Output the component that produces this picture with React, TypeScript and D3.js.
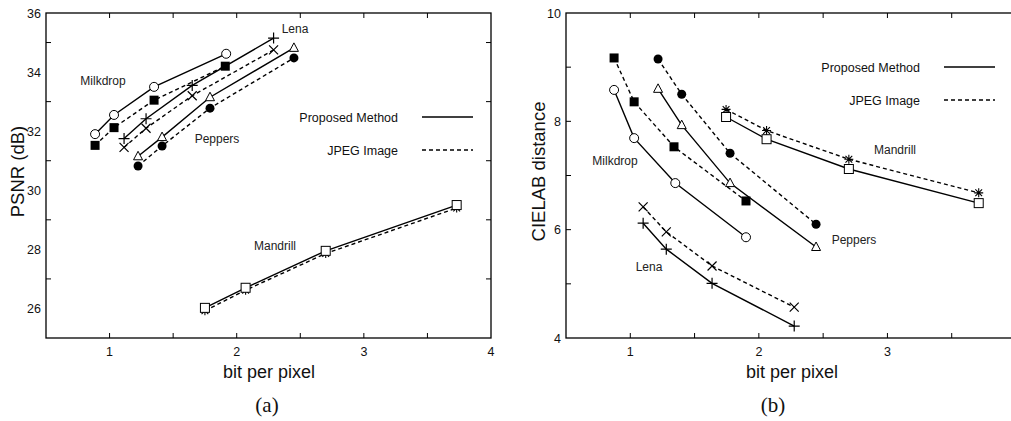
import * as d3 from "d3";

// (a) PSNR vs bit per pixel
const psnrMilkdropProposed = [[0.886, 31.9], [1.035, 32.55], [1.35, 33.5], [1.917, 34.62]];
const psnrMilkdropJpeg = [[0.886, 31.52], [1.035, 32.12], [1.35, 33.05], [1.91, 34.2]];
const psnrLenaProposed = [[1.114, 31.75], [1.287, 32.42], [1.65, 33.55], [2.29, 35.15]];
const psnrLenaJpeg = [[1.114, 31.45], [1.287, 32.1], [1.65, 33.2], [2.29, 34.75]];
const psnrPeppersProposed = [[1.224, 31.15], [1.413, 31.8], [1.79, 33.15], [2.45, 34.82]];
const psnrPeppersJpeg = [[1.224, 30.82], [1.413, 31.5], [1.79, 32.78], [2.45, 34.48]];
const psnrMandrillProposed = [[1.75, 26.02], [2.07, 26.7], [2.7, 27.95], [3.73, 29.5]];
const psnrMandrillJpeg = [[1.75, 25.92], [2.07, 26.62], [2.7, 27.86], [3.73, 29.4]];

// (b) CIELAB distance vs bit per pixel
const labMilkdropProposed = [[0.874, 8.58], [1.03, 7.69], [1.35, 6.86], [1.9, 5.86]];
const labMilkdropJpeg = [[0.874, 9.17], [1.03, 8.36], [1.34, 7.53], [1.9, 6.53]];
const labPeppersProposed = [[1.216, 8.6], [1.4, 7.93], [1.776, 6.86], [2.445, 5.68]];
const labPeppersJpeg = [[1.216, 9.15], [1.4, 8.5], [1.776, 7.41], [2.445, 6.1]];
const labMandrillProposed = [[1.745, 8.08], [2.06, 7.67], [2.7, 7.12], [3.71, 6.49]];
const labMandrillJpeg = [[1.745, 8.22], [2.06, 7.83], [2.7, 7.3], [3.71, 6.68]];
const labLenaProposed = [[1.1, 6.12], [1.28, 5.64], [1.636, 5.01], [2.275, 4.22]];
const labLenaJpeg = [[1.1, 6.42], [1.28, 5.96], [1.636, 5.33], [2.275, 4.57]];

const psnrXTicks = [1, 2, 3, 4];
const labXTicks = [1, 2, 3];
const psnrTicks = [26, 28, 30, 32, 34, 36];
const labTicks = [4, 6, 8, 10];
const legendLabels = ["Proposed Method", "JPEG Image"];

type Pt = number[];
type Series = { data: Pt[]; marker: string; dashed: boolean };

const psnrSeries: Series[] = [
  { data: psnrMilkdropProposed, marker: "circle", dashed: false },
  { data: psnrMilkdropJpeg, marker: "squareFill", dashed: true },
  { data: psnrLenaProposed, marker: "plus", dashed: false },
  { data: psnrLenaJpeg, marker: "cross", dashed: true },
  { data: psnrPeppersProposed, marker: "triangle", dashed: false },
  { data: psnrPeppersJpeg, marker: "circleFill", dashed: true },
  { data: psnrMandrillJpeg, marker: "star", dashed: true },
  { data: psnrMandrillProposed, marker: "square", dashed: false },
];

const labSeries: Series[] = [
  { data: labMilkdropProposed, marker: "circle", dashed: false },
  { data: labMilkdropJpeg, marker: "squareFill", dashed: true },
  { data: labPeppersProposed, marker: "triangle", dashed: false },
  { data: labPeppersJpeg, marker: "circleFill", dashed: true },
  { data: labMandrillJpeg, marker: "star", dashed: true },
  { data: labMandrillProposed, marker: "square", dashed: false },
  { data: labLenaProposed, marker: "plus", dashed: false },
  { data: labLenaJpeg, marker: "cross", dashed: true },
];

const FONT = "'Liberation Sans', Arial, Helvetica, sans-serif";

function Marker({ kind, x, y }: { kind: string; x: number; y: number }) {
  const s = 4.5;
  switch (kind) {
    case "circle":
      return <circle cx={x} cy={y} r={s} fill="#fff" stroke="#000" strokeWidth={1} />;
    case "circleFill":
      return <circle cx={x} cy={y} r={s} fill="#000" />;
    case "square":
      return <rect x={x - s} y={y - s} width={2 * s} height={2 * s} fill="#fff" stroke="#000" strokeWidth={1} />;
    case "squareFill":
      return <rect x={x - s} y={y - s} width={2 * s} height={2 * s} fill="#000" />;
    case "triangle":
      return (
        <path
          d={`M${x},${y - s - 0.5}L${x + s},${y + s - 1}L${x - s},${y + s - 1}Z`}
          fill="#fff"
          stroke="#000"
          strokeWidth={1}
        />
      );
    case "plus":
      return (
        <path d={`M${x - s - 1},${y}H${x + s + 1}M${x},${y - s - 1}V${y + s + 1}`} stroke="#000" strokeWidth={1.2} />
      );
    case "cross":
      return (
        <path
          d={`M${x - s},${y - s}L${x + s},${y + s}M${x - s},${y + s}L${x + s},${y - s}`}
          stroke="#000"
          strokeWidth={1.2}
        />
      );
    case "star":
      return (
        <path
          d={`M${x - s},${y}H${x + s}M${x},${y - s}V${y + s}M${x - s * 0.75},${y - s * 0.75}L${x + s * 0.75},${
            y + s * 0.75
          }M${x - s * 0.75},${y + s * 0.75}L${x + s * 0.75},${y - s * 0.75}`}
          stroke="#000"
          strokeWidth={1.1}
        />
      );
  }
  return null;
}

type PanelProps = {
  x0: number;
  x1: number;
  y0: number;
  y1: number;
  xTicks: number[];
  yDomain: [number, number];
  yTicks: number[];
  yMinorStep: number;
  series: Series[];
  yLabel: string;
  yLabelX: number;
  labels: { text: string; x: number; y: number }[];
  legendX: number;
  legendY: number;
  caption: string;
  captionX: number;
  xLabelX: number;
};

function Panel(p: PanelProps) {
  const x = d3.scaleLinear().domain([0.5, 4]).range([p.x0, p.x1]);
  const y = d3.scaleLinear().domain(p.yDomain).range([p.y1, p.y0]);
  const line = d3
    .line<Pt>()
    .x((d) => x(d[0]))
    .y((d) => y(d[1]));
  const xMinor = d3.range(1, 4, 0.5);
  const yMinor = d3.range(p.yDomain[0] + p.yMinorStep, p.yDomain[1], p.yMinorStep);
  const tl = 5;
  return (
    <g fontFamily={FONT}>
      <rect x={p.x0} y={p.y0} width={p.x1 - p.x0} height={p.y1 - p.y0} fill="none" stroke="#000" strokeWidth={1.3} />
      {xMinor.map((t) => (
        <g key={"x" + t}>
          <line x1={x(t)} x2={x(t)} y1={p.y1} y2={p.y1 - tl} stroke="#000" />
          <line x1={x(t)} x2={x(t)} y1={p.y0} y2={p.y0 + tl} stroke="#000" />
        </g>
      ))}
      {yMinor.map((t) => (
        <g key={"y" + t}>
          <line x1={p.x0} x2={p.x0 + tl} y1={y(t)} y2={y(t)} stroke="#000" />
          <line x1={p.x1} x2={p.x1 - tl} y1={y(t)} y2={y(t)} stroke="#000" />
        </g>
      ))}
      {p.xTicks.map((t) => (
        <text key={"xl" + t} x={x(t)} y={p.y1 + 18} textAnchor="middle" fontSize={12.5} fill="#111">
          {t}
        </text>
      ))}
      {p.yTicks.map((t) => (
        <text key={"yl" + t} x={p.x0 - 5} y={y(t) + 4.5} textAnchor="end" fontSize={12.5} fill="#111">
          {t}
        </text>
      ))}
      <text x={p.xLabelX} y={p.y1 + 40} textAnchor="middle" fontSize={18} fill="#111">
        bit per pixel
      </text>
      <text
        transform={`translate(${p.yLabelX},${(p.y0 + p.y1) / 2 - 4}) rotate(-90)`}
        textAnchor="middle"
        fontSize={18.5}
        fill="#111"
      >
        {p.yLabel}
      </text>
      <text x={p.captionX} y={p.y1 + 74} textAnchor="middle" fontSize={21} fontFamily="'Liberation Serif', serif" fill="#111">
        {p.caption}
      </text>
      {p.series.map((s, i) => (
        <path
          key={"l" + i}
          d={line(s.data as Pt[]) || ""}
          fill="none"
          stroke="#000"
          strokeWidth={1.4}
          strokeDasharray={s.dashed ? "4,3" : undefined}
        />
      ))}
      {p.series.map((s, i) =>
        s.data.map((d, j) => <Marker key={"m" + i + "-" + j} kind={s.marker} x={x(d[0])} y={y(d[1])} />)
      )}
      {p.labels.map((l) => (
        <text key={l.text} x={l.x} y={l.y} textAnchor="middle" fontSize={12} fill="#222">
          {l.text}
        </text>
      ))}
      {legendLabels.map((t, i) => (
        <g key={t}>
          <text x={p.legendX} y={p.legendY + i * 33 + 4.5} textAnchor="end" fontSize={12.5} fill="#111">
            {t}
          </text>
          <line
            x1={p.legendX + 24}
            x2={p.legendX + 75}
            y1={p.legendY + i * 33}
            y2={p.legendY + i * 33}
            stroke="#000"
            strokeWidth={1.4}
            strokeDasharray={i === 1 ? "4,3" : undefined}
          />
        </g>
      ))}
    </g>
  );
}

export default function App() {
  return (
    <svg
      width={1011}
      height={421}
      style={{ position: "absolute", left: 0, top: 0, background: "#fff", overflow: "hidden" }}
    >
      <rect width={1011} height={421} fill="#fff" />
      <Panel
        x0={46}
        x1={491}
        y0={13}
        y1={338}
        xTicks={psnrXTicks}
        yDomain={[25, 36]}
        yTicks={psnrTicks}
        yMinorStep={2}
        series={psnrSeries}
        yLabel="PSNR (dB)"
        yLabelX={24}
        labels={[
          { text: "Milkdrop", x: 103, y: 85 },
          { text: "Peppers", x: 217, y: 143 },
          { text: "Lena", x: 295, y: 33 },
          { text: "Mandrill", x: 275, y: 250 },
        ]}
        legendX={398}
        legendY={117}
        caption="(a)"
        captionX={267}
        xLabelX={269}
      />
      <Panel
        x0={566}
        x1={1016}
        y0={13}
        y1={338}
        xTicks={labXTicks}
        yDomain={[4, 10]}
        yTicks={labTicks}
        yMinorStep={1}
        series={labSeries}
        yLabel="CIELAB distance"
        yLabelX={545}
        labels={[
          { text: "Milkdrop", x: 615, y: 165 },
          { text: "Mandrill", x: 895, y: 154 },
          { text: "Peppers", x: 854, y: 244 },
          { text: "Lena", x: 649, y: 271 },
        ]}
        legendX={920}
        legendY={67}
        caption="(b)"
        captionX={773}
        xLabelX={792}
      />
    </svg>
  );
}
